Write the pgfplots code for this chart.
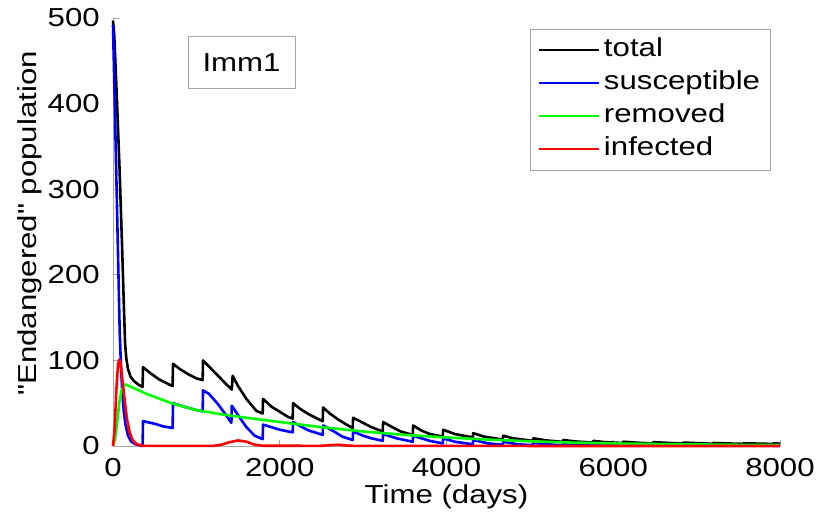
\documentclass[border=0pt]{standalone}
\usepackage{fontspec}
\setmainfont{Liberation Sans}[FakeStretch=1.2, Ligatures=TeXOff]
\usepackage{pgfplots}
\pgfplotsset{compat=1.18}
\begin{document}
\begin{tikzpicture}[font=\fontsize{26bp}{30bp}\selectfont]
\path[use as bounding box] (-113bp,-68bp) rectangle (704bp,446bp);
\begin{axis}[
  scale only axis, width=667bp, height=428bp,
  xmin=0, xmax=8000, ymin=0, ymax=500,
  axis x line*=bottom, axis y line*=left,
  axis line style={gray!70, line width=0.8bp},
  tick align=inside, major tick length=6bp,
  tick style={gray!70, line width=0.8bp},
  xtick={0,2000,4000,6000,8000}, ytick={0,100,200,300,400,500},
  scaled x ticks=false, scaled y ticks=false,
  /pgf/number format/1000 sep={},
  /pgf/number format/assume math mode=true,
  xticklabel style={inner ysep=0bp, yshift=-12bp},
  yticklabel style={inner xsep=0bp, xshift=-13bp},
  xlabel={Time (days)},
  xlabel style={at={(axis description cs:0.5,0)}, anchor=center, yshift=-51bp},
  ylabel={"Endangered" population},
  ylabel style={at={(axis description cs:-0.1244,0.52)}, anchor=center},
  clip=false,
  legend style={at={(0.9865,0.975)}, anchor=north east, draw=gray!70, line width=0.8bp,
    inner xsep=7bp, inner ysep=4.5bp, row sep=0bp, cells={anchor=west},
    nodes={inner xsep=3.5bp, inner ysep=3bp, text height=20bp, text depth=7bp}},
  legend image code/.code={\draw[#1, line width=2.6bp] (0bp,0bp) -- (60bp,0bp);},
  every axis plot/.append style={line width=2.6bp, line join=round},
]
% total
\addplot[black] coordinates {
(0,497)(15,480)(45,410)(80,320)(110,230)(130,165)(145,120)(160,102)(180,90)(210,81)(250,76)(300,72)(355,69)
(360,92)(450,85)(550,78)(650,73)(715,70)
(720,96)(800,90)(900,84)(1000,79)(1075,77)
(1080,100)(1150,93)(1250,83)(1350,73)(1425,66)
(1435,82)(1500,70)(1600,55)(1720,41)(1795,38)
(1800,55)(1900,46)(2000,40)(2100,34)(2155,32)
(2160,50)(2250,43)(2350,37)(2450,32)(2515,29)
(2520,45)(2600,38)(2700,31)(2800,25)(2875,21)
(2880,33)(3000,27)(3100,22)(3235,17)
(3240,28)(3350,22)(3450,17)(3595,13)
(3600,24)(3700,18)(3800,14)(3955,11)
(3960,19)(4100,14)(4315,10)
(4320,15)(4450,11)(4675,7.5)
(4680,12)(4800,9)(5035,6)
(5040,9)(5200,6.5)(5395,4.8)
(5400,7)(5550,5.3)(5755,4)
(5760,6)(5900,4.5)(6115,3.5)
(6120,5)(6300,3.8)(6475,3)
(6480,4.5)(6830,2.8)(6840,4)(7195,2.6)(7200,3.5)(7555,2.5)(7560,3.2)(7915,2.4)(7920,3)(8000,2.8)
};
\addlegendentry{total}
% susceptible
\addplot[blue] coordinates {
(0,492)(20,405)(40,315)(60,225)(80,135)(95,95)(110,65)(130,40)(150,25)(180,12)(220,5)(270,2)(355,0)
(360,29)(500,26)(600,23)(715,21)
(720,50)(850,46)(1000,42)(1075,40.5)
(1080,65)(1150,61)(1250,50)(1350,37)(1420,27)
(1425,47)(1500,36)(1600,22)(1700,12)(1795,8)
(1800,25)(1900,22)(2000,19)(2100,17)(2155,16)
(2160,28)(2250,23)(2350,18)(2450,15)(2515,13)
(2520,24)(2650,17)(2750,11)(2875,7)
(2880,17)(3000,12)(3100,9)(3235,6)
(3240,14)(3400,9)(3595,5)
(3600,12)(3800,6)(3955,3)
(3960,9)(4100,5)(4315,2)
(4320,7)(4500,3)(4675,1.5)
(4680,5)(4850,2)(5035,1)
(5040,3.5)(5395,0.8)(5400,2.5)(5755,0.6)(5760,2)(6115,0.5)(6120,1.5)(6475,0.4)(6480,1.2)(8000,0.3)
};
\addlegendentry{susceptible}
% removed
\addplot[green] coordinates {
(0,0)(25,8)(50,28)(75,50)(100,64)(125,70)(150,72)(400,61)(700,50)(1000,42)(1300,37)(1600,33)
(2000,28)(2500,22)(3000,17)(3500,13)(4000,10)(4500,7.5)(5000,5.5)(5500,4)(6000,3)(6500,2.3)(7000,1.8)(7500,1.4)(8000,1.1)
};
\addlegendentry{removed}
% infected
\addplot[red] coordinates {
(0,0)(20,20)(40,65)(60,95)(75,101)(90,97)(110,80)(130,62)(150,45)(170,30)(200,16)(230,8)(260,4)(300,1.5)(350,0.5)(400,0.1)
(1200,0.1)(1300,1.5)(1400,4.5)(1500,6.5)(1600,5)(1700,1.5)(1800,0.3)(2500,0.2)(2600,1)(2700,1.5)(2800,0.6)(2900,0.1)(8000,0)
};
\addlegendentry{infected}
\node[draw=gray!70, line width=0.8bp, minimum width=107bp, minimum height=52bp, inner sep=0bp]
  at (rel axis cs:0.1927,0.897) {Imm1};
\end{axis}
\end{tikzpicture}
\end{document}
